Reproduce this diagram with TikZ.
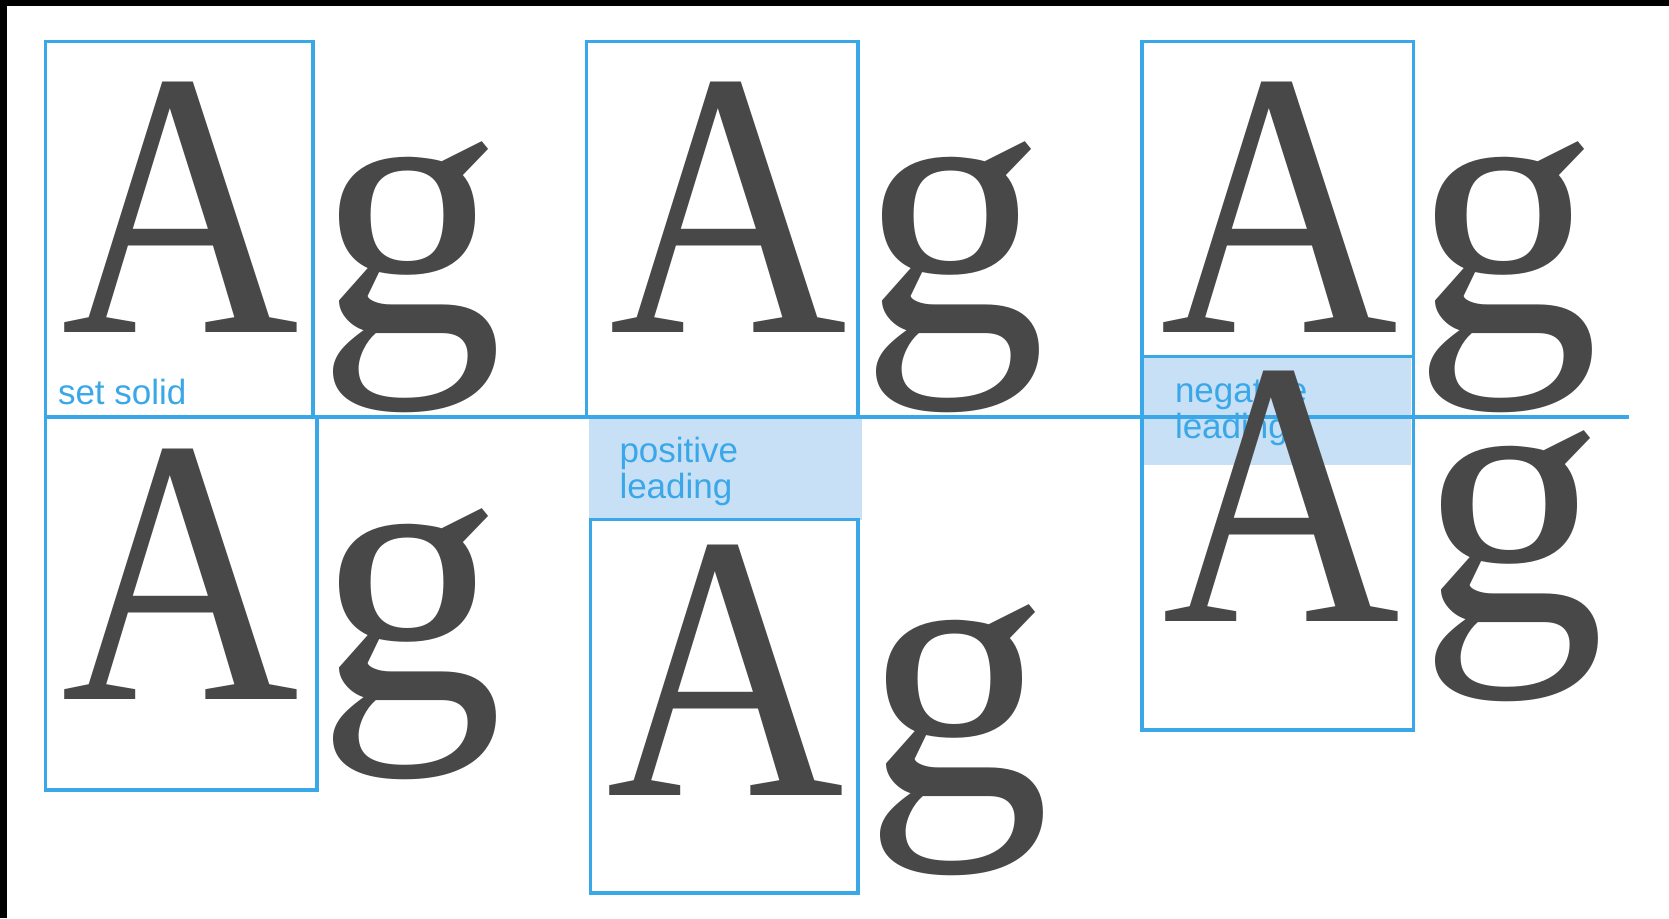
\documentclass[tikz,border=0pt]{standalone}
\usepackage{fontspec}
\setmainfont{Liberation Serif}
\setsansfont{Liberation Sans}
\usetikzlibrary{positioning}
\definecolor{guideblue}{HTML}{3AA8E8}
\definecolor{leadfill}{HTML}{C8E0F6}
\definecolor{inkgray}{HTML}{484848}
\newcommand{\capA}{\scalebox{0.886}[1.02]{A}}

\begin{document}
\begin{tikzpicture}[
  x=1pt, y=-1pt,
  box/.style={draw=guideblue, line width=3.2pt},
  band/.style={fill=leadfill},
  glyph/.style={inner sep=0pt, outer sep=0pt, anchor=base west, text=inkgray, font=\fontsize{372}{372}\selectfont},
  tag/.style={inner sep=0pt, outer sep=0pt, anchor=base west, text=guideblue, align=left, font=\sffamily\fontsize{35}{36}\selectfont},
]
\useasboundingbox (0,0) rectangle (1669,918);
\fill[white] (0,0) rectangle (1669,918);
% black edge at top and left
\fill[black] (0,0) rectangle (1669,6);
\fill[black] (0,0) rectangle (6.5,918);

% leading bands
\fill[band] (588.6,417) rectangle (862,519.5);
\fill[band] (1144,357) rectangle (1411,465);

% em boxes and the shared baseline rule
\draw[box] (45.8,41.5) rectangle (313,417);
\draw[box] (45.8,417) rectangle (317,790);
\draw[box] (586.5,41.5) rectangle (858,417);
\draw[box] (590.7,519.5) rectangle (858,893);
\draw[box] (1142,41.5) rectangle (1413.5,730);
\draw[box] (1142,356.6) -- (1413.5,356.6);
\draw[box] (45.8,417) -- (1628.6,417);

% labels (base = last line)
\node[tag] (solid) at (58,404) {set solid};
\node[tag] (positive) at (619.5,498) {positive\\leading};
\node[tag] (negative) at (1175,438) {negative\\leading};

% set solid
\node[glyph] (A1top) at (61.4,332) {\capA};
\node[glyph] (g1top) at (317.2,332) {g};
\node[glyph] (A1bot) at (61.4,699.3) {\capA};
\node[glyph] (g1bot) at (317.2,699.3) {g};

% positive leading
\node[glyph] (A2top) at (609.4,332) {\capA};
\node[glyph] (g2top) at (860.2,332) {g};
\node[glyph] (A2bot) at (606.4,795.5) {\capA};
\node[glyph] (g2bot) at (864.2,795.5) {g};

% negative leading
\node[glyph] (A3top) at (1160.9,332) {\capA};
\node[glyph] (g3top) at (1413.2,332) {g};
\node[glyph] (A3bot) at (1162.9,621) {\capA};
\node[glyph] (g3bot) at (1419.2,621) {g};
\end{tikzpicture}
\end{document}
